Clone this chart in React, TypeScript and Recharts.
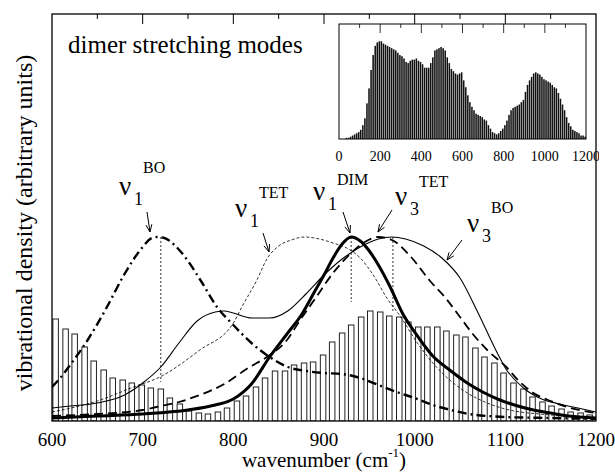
import React from 'react';
import { ComposedChart, BarChart, Bar, Line, XAxis, YAxis, ReferenceLine } from 'recharts';

// ---------- main histogram (hollow bars) ----------
const barCenters = [604, 615, 625, 636, 646, 657, 667, 678, 688, 699, 709, 720, 730, 741, 751, 762, 772, 783, 793, 804, 814, 825, 835, 846, 857, 867, 878, 888, 899, 909, 920, 930, 941, 951, 962, 972, 983, 993, 1004, 1014, 1025, 1035, 1046, 1056, 1067, 1077, 1088, 1098, 1109, 1120, 1130, 1141, 1151, 1162, 1172, 1183, 1193];
const barHeights = [102, 92, 87, 74, 60, 51, 43, 41, 38, 36, 33, 32, 23, 17, 10, 8, 7, 9, 13, 20, 25, 34, 43, 50, 50, 56, 58, 59, 66, 79, 88, 96, 104, 110, 109, 105, 104, 99, 94, 94, 94, 90, 86, 84, 73, 64, 58, 48, 38, 32, 24, 19, 15, 12, 9, 8, 6];

// ---------- curves (wavenumber, density) ----------
const nu1BO = [[600, 34], [610, 44], [620, 56], [640, 82], [660, 113], [680, 147], [700, 174], [710, 183], [716, 184], [724, 183], [735, 176], [750, 160], [765, 139], [782, 114], [800, 96], [820, 78], [840, 64], [860, 54], [880, 50], [900, 48], [920, 47], [940, 43], [960, 36], [980, 29], [1000, 23], [1020, 16], [1040, 11], [1060, 7], [1080, 5], [1100, 4], [1150, 3], [1200, 2]];
const nu3BO = [[600, 13], [620, 15], [650, 18], [680, 26], [700, 38], [720, 54], [740, 78], [760, 100], [780, 109], [790, 110], [800, 108], [820, 103], [840, 103], [860, 110], [880, 127], [900, 146], [920, 162], [940, 174], [960, 182], [975, 184], [990, 182], [1010, 175], [1030, 163], [1050, 143], [1070, 108], [1090, 70], [1100, 53], [1120, 33], [1140, 22], [1160, 17], [1180, 13], [1200, 9]];
const nu1DIM = [[600, 3], [650, 5], [700, 7], [750, 11], [780, 16], [800, 22], [820, 37], [840, 64], [860, 88], [875, 106], [890, 130], [900, 146], [910, 163], [920, 177], [930, 184], [940, 180], [950, 170], [960, 156], [973, 134], [987, 107], [1000, 89], [1020, 65], [1040, 50], [1058, 38], [1075, 29], [1094, 21], [1110, 16], [1131, 11], [1150, 8], [1170, 5], [1200, 3]];
const nu3TET = [[600, 5], [650, 7], [700, 11], [715, 14], [740, 19], [763, 26], [790, 37], [818, 54], [837, 64], [860, 82], [873, 100], [890, 122], [910, 148], [930, 168], [945, 179], [960, 184], [975, 181], [995, 165], [1017, 140], [1035, 122], [1050, 104], [1065, 86], [1080, 71], [1101, 54], [1115, 40], [1131, 28], [1150, 20], [1168, 14], [1200, 8]];
const nu1TET = [[600, 9], [650, 20], [690, 34], [719, 44], [763, 71], [800, 98], [810, 115], [826, 141], [837, 162], [850, 175], [864, 181], [878, 184], [895, 182], [910, 178], [925, 173], [940, 163], [955, 145], [970, 122], [984, 105], [1000, 82], [1020, 58], [1040, 40], [1060, 27], [1080, 18], [1100, 12], [1150, 6], [1200, 3]];

const peakMarks = [[720, 184, 39], [930, 184, 119], [976, 184, 108]];

// ---------- inset histogram ----------
const insetHeights = [0, 0, 0, 1, 1, 2, 3, 4, 5, 6, 8, 12, 18, 31, 44, 60, 73, 81, 84, 85, 85, 83, 82, 81, 80, 79, 78, 77, 75, 73, 72, 70, 67, 66, 68, 69, 69, 70, 68, 67, 65, 62, 62, 62, 66, 71, 77, 78, 79, 80, 79, 77, 71, 66, 61, 59, 57, 56, 57, 58, 51, 45, 38, 32, 28, 25, 22, 21, 20, 19, 17, 16, 12, 9, 6, 5, 4, 5, 7, 9, 12, 16, 21, 25, 27, 28, 29, 30, 32, 34, 41, 47, 51, 54, 57, 58, 57, 56, 54, 52, 51, 50, 49, 47, 45, 44, 40, 35, 30, 25, 19, 14, 11, 8, 7, 6, 5, 3, 3, 2];
const insetBinWidth = 10;

const mainTicks = [600, 700, 800, 900, 1000, 1100, 1200];
const insetTicks = [0, 200, 400, 600, 800, 1000, 1200];

const mainBars = barCenters.map((x, i) => ({ x, h: barHeights[i] }));
const toPts = (a: number[][]) => a.map(([x, y]) => ({ x, y }));
const insetData = insetHeights.map((h, i) => ({ x: insetBinWidth * i + insetBinWidth / 2, h }));

const FONT = "'Times New Roman', 'Liberation Serif', 'DejaVu Serif', serif";

// plot frames (pixels)
const M = { left: 52, top: 14, right: 596, bottom: 421 };
const I = { left: 339, top: 24, right: 586, bottom: 139 };
const mx = (v: number) => M.left + ((v - 600) / 600) * (M.right - M.left);
const ix = (v: number) => I.left + (v / 1200) * (I.right - I.left);

const HollowBar = (p: any) => {
  const w = 5.5;
  const cx = p.x + p.width / 2;
  if (!p.height || p.height <= 0) return null;
  return <rect x={cx - w / 2} y={p.y} width={w} height={p.height} fill="#fff" stroke="#222" strokeWidth={1} />;
};

const InsetBar = (p: any) => {
  const w = 1.55;
  const cx = p.x + p.width / 2;
  if (!p.height || p.height <= 0) return null;
  return <rect x={cx - w / 2} y={p.y} width={w} height={p.height} fill="#111" />;
};

const Arrow = ({ x1, y1, x2, y2 }: any) => {
  const a = Math.atan2(y2 - y1, x2 - x1);
  const L = 8, w = 0.38;
  return (
    <g stroke="#000" strokeWidth={1} fill="none">
      <line x1={x1} y1={y1} x2={x2} y2={y2} />
      <line x1={x2} y1={y2} x2={x2 - L * Math.cos(a - w)} y2={y2 - L * Math.sin(a - w)} />
      <line x1={x2} y1={y2} x2={x2 - L * Math.cos(a + w)} y2={y2 - L * Math.sin(a + w)} />
    </g>
  );
};

const Nu = ({ x, y, sub, sup, supDy = -18 }: any) => (
  <g fontFamily={FONT} fill="#000">
    <text x={x} y={y} fontSize={27}>ν</text>
    <text x={x + 15} y={y + 10} fontSize={18}>{sub}</text>
    <text x={x + 24} y={y + supDy} fontSize={16}>{sup}</text>
  </g>
);

const lineCommon = { dot: false, activeDot: false, isAnimationActive: false, type: 'monotone' as const, dataKey: 'y', stroke: '#000' };

export default function App() {
  return (
    <div style={{ position: 'absolute', left: 0, top: 0, width: 615, height: 472, background: '#fff', fontFamily: FONT }}>
      <div style={{ position: 'absolute', left: 0, top: 0 }}>
        <ComposedChart width={615} height={472} data={mainBars} margin={{ top: 14, right: 19, left: 52, bottom: 21 }}>
          <XAxis dataKey="x" type="number" domain={[600, 1200]} ticks={mainTicks} interval={0} allowDataOverflow
            tickLine={false} axisLine={false} tickMargin={6} height={30}
            tick={{ fontFamily: FONT, fontSize: 19, fill: '#000' }} />
          <YAxis type="number" domain={[0, 407]} hide allowDataOverflow />
          <Bar dataKey="h" fill="#fff" shape={HollowBar} isAnimationActive={false} />
          {peakMarks.map(([x, y1, y2], i) => (
            <ReferenceLine key={i} segment={[{ x, y: y1 }, { x, y: y2 }]} stroke="#000" strokeWidth={0.8} strokeDasharray="2 2" />
          ))}
          <Line {...lineCommon} data={toPts(nu1TET)} strokeWidth={0.8} strokeDasharray="3 2" />
          <Line {...lineCommon} data={toPts(nu3BO)} strokeWidth={1.1} />
          <Line {...lineCommon} data={toPts(nu3TET)} strokeWidth={1.8} strokeDasharray="9 5" />
          <Line {...lineCommon} data={toPts(nu1BO)} strokeWidth={2.4} strokeDasharray="9 4 2 4" />
          <Line {...lineCommon} data={toPts(nu1DIM)} strokeWidth={3} />
        </ComposedChart>
      </div>

      <div style={{ position: 'absolute', left: I.left - 10, top: I.top }}>
        <BarChart width={I.right - I.left + 23} height={I.bottom - I.top + 25} data={insetData} margin={{ top: 0, right: 13, left: 10, bottom: 0 }}>
          <XAxis dataKey="x" type="number" domain={[0, 1200]} ticks={insetTicks} interval={0} allowDataOverflow
            tickLine={false} axisLine={false} tickMargin={6} height={25}
            tick={{ fontFamily: FONT, fontSize: 14, fill: '#000' }} />
          <YAxis type="number" domain={[0, 100]} hide allowDataOverflow />
          <Bar dataKey="h" fill="#111" shape={InsetBar} isAnimationActive={false} />
        </BarChart>
      </div>

      <svg width={615} height={472} style={{ position: 'absolute', left: 0, top: 0, pointerEvents: 'none' }}>
        <rect x={M.left} y={M.top} width={M.right - M.left} height={M.bottom - M.top} fill="none" stroke="#000" strokeWidth={1.3} />
        {[650, 700, 750, 800, 850, 900, 950, 1000, 1050, 1100, 1150].map((v) => (
          <line key={v} x1={mx(v)} x2={mx(v)} y1={M.top} y2={M.top + (v % 100 === 0 ? 10 : 5)} stroke="#000" strokeWidth={1} />
        ))}
        <rect x={I.left} y={I.top} width={I.right - I.left} height={I.bottom - I.top} fill="none" stroke="#000" strokeWidth={1} />
        {[100, 200, 300, 400, 500, 600, 700, 800, 900, 1000, 1100].map((v) => (
          <line key={v} x1={ix(v)} x2={ix(v)} y1={I.top} y2={I.top + (v % 200 === 0 ? 9 : 4)} stroke="#000" strokeWidth={0.8} />
        ))}

        <text x={68} y={53} fontFamily={FONT} fontSize={25} fill="#000">dimer stretching modes</text>

        <text x={324} y={467} fontFamily={FONT} fontSize={21} fill="#000" textAnchor="middle">
          wavenumber (cm<tspan fontSize={13} dy={-10}>-1</tspan><tspan dy={10}>)</tspan>
        </text>
        <text x={32} y={223} fontFamily={FONT} fontSize={24} fill="#000" textAnchor="middle" transform="rotate(-90 32 223)">
          vibrational density (arbitrary units)
        </text>

        <Nu x={119} y={195} sub="1" sup="BO" supDy={-22} />
        <Arrow x1={147} y1={212} x2={150} y2={232} />
        <Nu x={235} y={217} sub="1" sup="TET" supDy={-19} />
        <Arrow x1={263} y1={233} x2={269} y2={252} />
        <Nu x={313} y={200} sub="1" sup="DIM" supDy={-15} />
        <Arrow x1={343} y1={212} x2={350} y2={233} />
        <Nu x={395} y={205} sub="3" sup="TET" supDy={-18} />
        <Arrow x1={392} y1={210} x2={378} y2={232} />
        <Nu x={467} y={232} sub="3" sup="BO" supDy={-19} />
        <Arrow x1={462} y1={240} x2={447} y2={260} />
      </svg>
    </div>
  );
}
